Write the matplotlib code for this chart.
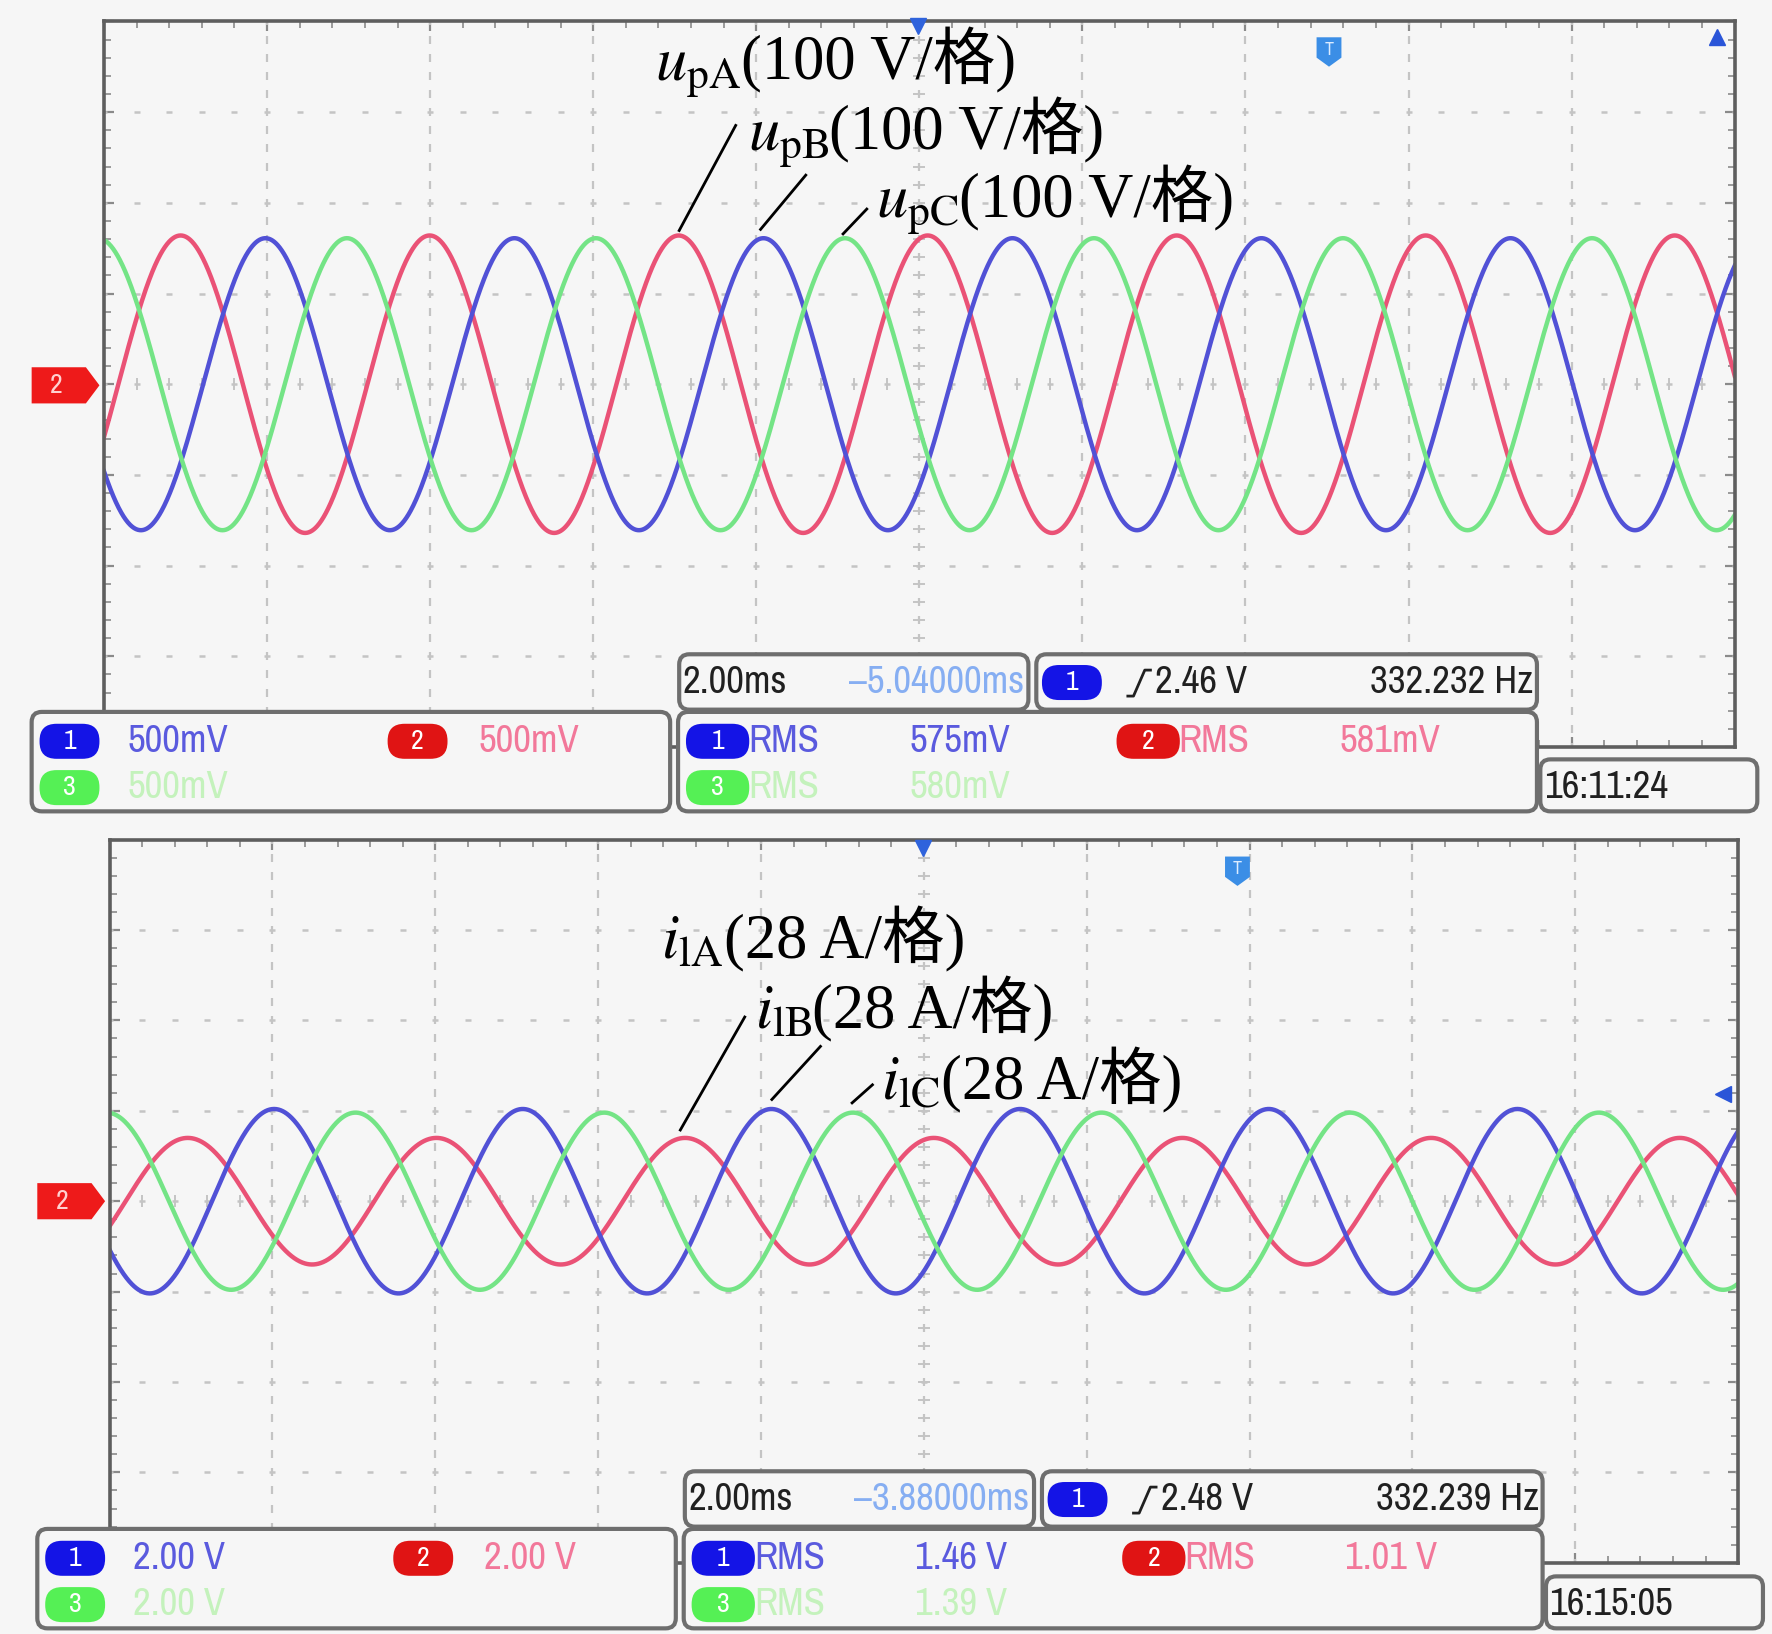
import numpy as np
import matplotlib.pyplot as plt
import matplotlib.font_manager as fm
from matplotlib.patches import FancyBboxPatch, Polygon
from matplotlib.ticker import MultipleLocator

plt.rcParams['mathtext.fontset'] = 'stix'

# ---- waveform readings, in scope divisions (2 ms/div, 10 x 8 grid) ----
phase_labels = ['A', 'B', 'C']
trace_colors = ['#ea5276', '#5151d6', '#74e486']     # A red, B blue, C green
period_div = 1.527                                    # ~332 Hz

u_amp = [1.64, 1.61, 1.61]      # phase voltage amplitude (div)
u_peak = [0.47, 0.99, 1.49]     # first positive peak (div)
i_amp = [0.70, 1.02, 0.98]      # line current amplitude (div)
i_peak = [0.48, 1.01, 1.51]

u_scale = '(100 V/格)'
i_scale = '(28 A/格)'

# ---- scope read-outs ----
top_timebase = ['2.00ms', '–5.04000ms']
top_trigger = ['2.46 V', '332.232 Hz']
top_ch_scale = ['500mV', '500mV', '500mV']
top_rms = ['575mV', '581mV', '580mV']
top_clock = '16:11:24'

bot_timebase = ['2.00ms', '–3.88000ms']
bot_trigger = ['2.48 V', '332.239 Hz']
bot_ch_scale = ['2.00 V', '2.00 V', '2.00 V']
bot_rms = ['1.46 V', '1.01 V', '1.39 V']
bot_clock = '16:15:05'

W, H = 1568, 1446          # layout units (scaled to 1772x1634 on save)
bg = '#f6f6f6'
grid_c = '#c4c4c4'
installed = {f.name for f in fm.fontManager.ttflist}
narrow_pref = ['Liberation Sans Narrow', 'Arial Narrow', 'Archivo Narrow', 'PT Sans Narrow',
               'Roboto Condensed', 'Fira Sans Condensed', 'Open Sans Condensed', 'Liberation Sans']
narrow = [n for n in narrow_pref if n in installed][:1] + ['DejaVu Sans']
serif_cjk = ['Liberation Serif', 'Noto Sans CJK SC']
badge_c = ['#1414e6', '#e01414', '#55f055']
text_c = ['#5a5ade', '#f2789a', '#c4f2bc']

fig = plt.figure(figsize=(17.72, 16.34), dpi=100, facecolor=bg)


def rect(x0, y0, x1, y1):
    return [x0 / W, 1 - y1 / H, (x1 - x0) / W, (y1 - y0) / H]


def draw_scope(r, amps, peaks):
    ax = fig.add_axes(r)
    ax.set_facecolor(bg)
    ax.set_xlim(0, 10)
    ax.set_ylim(-4, 4)
    fx = np.arange(0, 10.001, 0.2)
    fy = np.arange(-4, 4.001, 0.2)
    for gx in range(1, 10):
        ax.plot(np.full_like(fy, gx), fy, ls='none', marker='|', ms=6, mew=1.6, color=grid_c)
    for gy in range(-3, 4):
        ax.plot(fx, np.full_like(fx, gy), ls='none', marker='_', ms=4, mew=1.8, color=grid_c)
    # centre cross with fine ticks
    ax.plot(np.full_like(fy, 5), fy, ls='none', marker='_', ms=9, mew=1.4, color=grid_c)
    ax.plot(fx, np.zeros_like(fx), ls='none', marker='|', ms=9, mew=1.4, color=grid_c)

    t = np.linspace(0, 10, 3000)
    for a, p, c in zip(amps, peaks, trace_colors):
        ax.plot(t, a * np.cos(2 * np.pi * (t - p) / period_div), color=c, lw=3.2)

    ax.xaxis.set_major_locator(MultipleLocator(1))
    ax.xaxis.set_minor_locator(MultipleLocator(0.2))
    ax.yaxis.set_major_locator(MultipleLocator(1))
    ax.yaxis.set_minor_locator(MultipleLocator(0.2))
    ax.tick_params(which='both', direction='in', top=True, right=True,
                   labelbottom=False, labelleft=False, color='#8a8a8a')
    ax.tick_params(which='major', length=7, width=1.6)
    ax.tick_params(which='minor', length=5, width=1.2)
    for s in ax.spines.values():
        s.set_color('#5e5e5e')
        s.set_linewidth(2.6)
    return ax


draw_scope(rect(92, 19, 1535, 661), u_amp, u_peak)
draw_scope(rect(97, 743, 1538, 1383), i_amp, i_peak)

ov = fig.add_axes([0, 0, 1, 1])
ov.set_xlim(0, W)
ov.set_ylim(H, 0)
ov.axis('off')
ov.set_zorder(5)
rend = fig.canvas.get_renderer()


def box(x0, y0, x1, y1, rs=9):
    ov.add_patch(FancyBboxPatch((x0, y0), x1 - x0, y1 - y0,
                                boxstyle=f'round,pad=0,rounding_size={rs}',
                                fc=bg, ec='#6e6e6e', lw=3))


def badge(x, y, num, color, w=53, h=31):
    ov.add_patch(FancyBboxPatch((x, y - h / 2), w, h, boxstyle='round,pad=0,rounding_size=15',
                                fc=color, ec='none'))
    ov.text(x + w / 2, y, num, color='white', ha='center', va='center',
            fontsize=20, family=narrow)


def label(x, y, s, color, **kw):
    ov.text(x, y, s, color=color, va='center', fontsize=28, family=narrow, **kw)


def readout(dx, dy, timebase, trigger, scales, rms, clock):
    # time base / trigger bar
    box(601 + dx, 579 + dy, 910 + dx, 628 + dy)
    label(604 + dx, 604 + dy, timebase[0], '#202020')
    label(906 + dx, 604 + dy, timebase[1], '#86aef2', ha='right')
    box(917 + dx, 579 + dy, 1360 + dx, 628 + dy)
    badge(922 + dx, 604 + dy, '1', badge_c[0])
    ov.plot(np.array([998, 1003, 1013, 1018]) + dx, np.array([616, 616, 593, 593]) + dy,
            color='#202020', lw=2)
    label(1022 + dx, 604 + dy, trigger[0], '#202020')
    label(1357 + dx, 604 + dy, trigger[1], '#202020', ha='right')
    # channel scales
    box(28 + dx, 630 + dy, 593 + dx, 718 + dy)
    rows = [656 + dy, 656 + dy, 697 + dy]
    bx = [35, 343, 35]
    tx = [113, 423, 113]
    for k in range(3):
        badge(bx[k] + dx, rows[k], str(k + 1), badge_c[k])
        label(tx[k] + dx, rows[k], scales[k], text_c[k])
    # RMS measurements
    box(600 + dx, 630 + dy, 1360 + dx, 718 + dy)
    bx = [607, 988, 607]
    vx = [805, 1185, 805]
    for k in range(3):
        badge(bx[k] + dx, rows[k], str(k + 1), badge_c[k], w=56)
        label(bx[k] + 55 + dx, rows[k], 'RMS', text_c[k])
        label(vx[k] + dx, rows[k], rms[k], text_c[k])
    # clock
    box(1363 + dx, 672 + dy, 1555 + dx, 718 + dy)
    label(1366 + dx, 697 + dy, clock, '#202020')


readout(0, 0, top_timebase, top_trigger, top_ch_scale, top_rms, top_clock)
readout(5, 723, bot_timebase, bot_trigger, bot_ch_scale, bot_rms, bot_clock)


def ground_marker(x0, yc):
    ov.add_patch(Polygon([(x0, yc - 16), (x0 + 48, yc - 16), (x0 + 60, yc),
                          (x0 + 48, yc + 16), (x0, yc + 16)], closed=True, fc='#ee1a1a', ec='none'))
    ov.text(x0 + 22, yc, '2', color='#ffd0d0', ha='center', va='center', fontsize=20, family=narrow)


def trig_marker(x, y):
    ov.add_patch(Polygon([(x - 11, y - 13), (x + 11, y - 13), (x + 11, y + 5), (x, y + 13),
                          (x - 11, y + 5)], closed=True, fc='#3b8ee6', ec='none'))
    ov.text(x, y - 2, 'T', color='#dcecff', ha='center', va='center', fontsize=13, family=narrow)


ground_marker(28, 341)
ground_marker(33, 1063)
ov.plot(812, 23, marker='v', ms=11, color='#2f63dc')
ov.plot(817, 750, marker='v', ms=11, color='#2f63dc')
trig_marker(1176, 46)
trig_marker(1095, 771)
ov.plot(1519, 33, marker='^', ms=11, color='#2a55d8')
ov.plot(1525, 968, marker='<', ms=11, color='#2a55d8')


def tag(x, y, sym, rest):
    t1 = ov.text(x, y, sym, fontsize=45, va='baseline', color='black')
    bb = t1.get_window_extent(rend)
    xe = ov.transData.inverted().transform((bb.x1, bb.y0))[0]
    ov.text(xe, y, rest, fontsize=45, va='baseline', family=serif_cjk, color='black')


u_pos = [(580, 70), (662, 132), (775, 192)]
i_pos = [(585, 848), (668, 910), (780, 973)]
for ph, (x, y) in zip(phase_labels, u_pos):
    tag(x, y, rf'$u_{{\mathrm{{p{ph}}}}}$', u_scale)
for ph, (x, y) in zip(phase_labels, i_pos):
    tag(x, y, rf'$i_{{\mathrm{{l{ph}}}}}$', i_scale)

u_leaders = [((651, 111), (601, 204)), ((713, 155), (673, 203)), ((767, 185), (746, 207))]
i_leaders = [((659, 900), (602, 1000)), ((726, 926), (683, 973)), ((772, 960), (754, 976))]
for (a, b) in u_leaders + i_leaders:
    ov.plot([a[0], b[0]], [a[1], b[1]], color='black', lw=2)

fig.savefig('out.png', dpi=100, facecolor=bg)
